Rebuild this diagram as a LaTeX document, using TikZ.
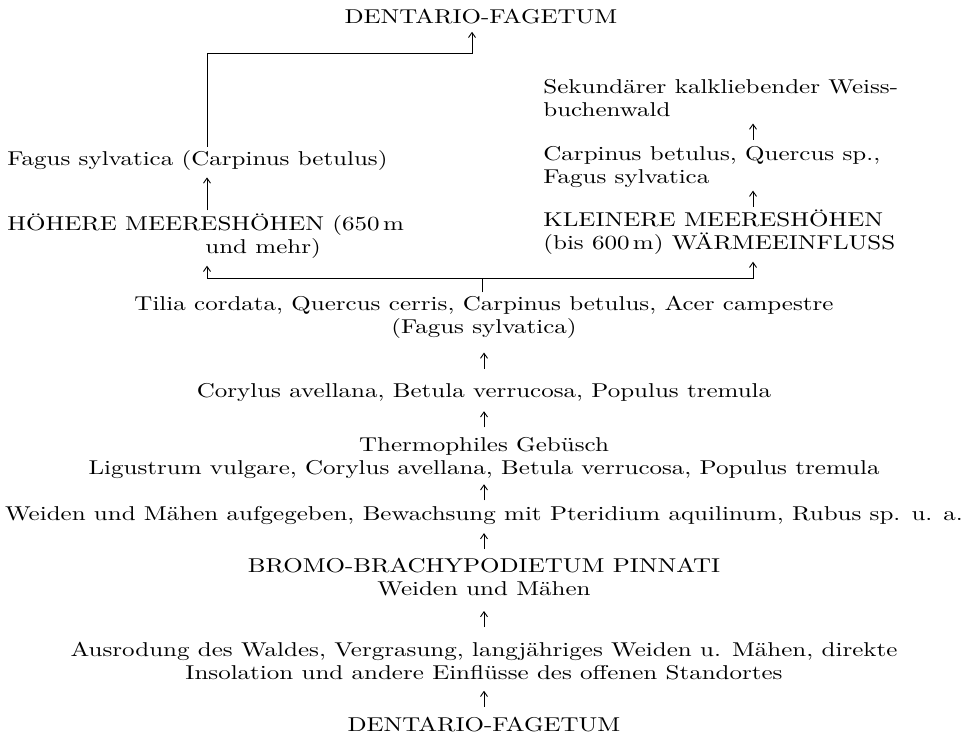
\documentclass[tikz,border=0pt]{standalone}
\usepackage{fontspec}
\setmainfont{lmroman10-regular.otf}[FakeStretch=1.25]
\usetikzlibrary{arrows.meta, calc}

\begin{document}
\begin{tikzpicture}[x=0.5pt, y=-0.5pt,
    stage/.style={inner sep=1.5pt, align=center, font=\fontsize{10}{11.5}\selectfont},
    side/.style={stage, align=left, anchor=west},
    arr/.style={-{Straight Barb[length=2.5pt,width=3.5pt]}, line width=0.45pt},
    rung/.style={line width=0.45pt}]
  \useasboundingbox (0,0) rectangle (968,740);
  % Hauptreihe, von unten nach oben
  \foreach \n/\y/\t in {dfunten/725/{DENTARIO-FAGETUM},
                        ausrodung/661/{Ausrodung des Waldes, Vergrasung, langjähriges Weiden u. Mähen, direkte\\Insolation und andere Einflüsse des offenen Standortes},
                        bromo/577/{BROMO-BRACHYPODIETUM PINNATI\\Weiden und Mähen},
                        weiden/515/{Weiden und Mähen aufgegeben, Bewachsung mit Pteridium aquilinum, Rubus sp. u. a.},
                        gebuesch/458/{Thermophiles Gebüsch\\Ligustrum vulgare, Corylus avellana, Betula verrucosa, Populus tremula},
                        corylus/392/{Corylus avellana, Betula verrucosa, Populus tremula},
                        tilia/317/{Tilia cordata, Quercus cerris, Carpinus betulus, Acer campestre\\(Fagus sylvatica)}} {
    \node[stage] (\n) at (484,\y) {\t};
  }
  \foreach \a/\b in {dfunten/ausrodung, ausrodung/bromo, bromo/weiden, weiden/gebuesch,
                     gebuesch/corylus, corylus/tilia} {
    \draw[arr] ($(\a.north)!.5!(\b.south)+(0,8)$) -- ++(0,-16);
  }
  % linker Zweig
  \node[side] (hoehere) at (4,236) {HÖHERE MEERESHÖHEN (650\,m\\\hspace*{99pt}und mehr)};
  \node[side] (fagus) at (4,160) {Fagus sylvatica (Carpinus betulus)};
  \node[stage] (dfoben) at (481,17) {DENTARIO-FAGETUM};
  % rechter Zweig
  \node[side] (kleinere) at (540,232) {KLEINERE MEERESHÖHEN\\(bis 600\,m) WÄRMEEINFLUSS};
  \node[side] (carpinus) at (540,167) {Carpinus betulus, Quercus sp.,\\Fagus sylvatica};
  \node[side] (weissbuche) at (540,98) {Sekundärer kalkliebender Weiss-\\buchenwald};
  % Hilfspunkte
  \coordinate (lcol) at (207,0);
  \coordinate (rcol) at (753,0);
  \coordinate (knot) at (482,278);
  \coordinate (topbend) at (472,53);
  % Verbindungen
  \draw[rung] (tilia.north -| knot) -- (knot);
  \draw[arr, shorten >=2pt] (knot) -| (hoehere.south -| lcol);
  \draw[arr, shorten >=2pt] (knot) -| (kleinere.south -| rcol);
  \draw[arr, shorten >=2pt] (hoehere.north -| lcol) -- (fagus.south -| lcol);
  \draw[arr, shorten >=2pt] (fagus.north -| lcol) |- (topbend) -- (dfoben.south -| topbend);
  \foreach \a/\b in {kleinere/carpinus, carpinus/weissbuche} {
    \draw[arr] ($(\a.north -| rcol)!.5!(\b.south -| rcol)+(0,8)$) -- ++(0,-16);
  }
\end{tikzpicture}
\end{document}
